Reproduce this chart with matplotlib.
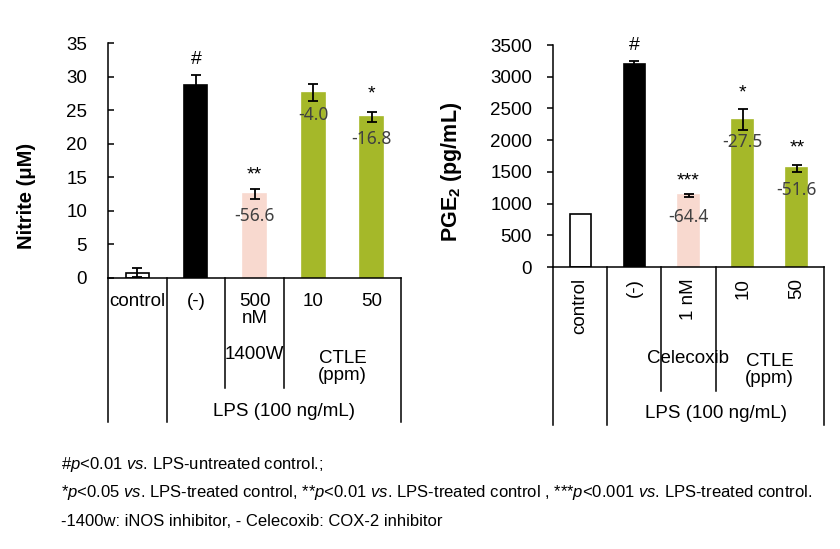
import matplotlib
matplotlib.use('Agg')
import matplotlib.pyplot as plt

plt.rcParams['font.family'] = ['Liberation Sans', 'DejaVu Sans']
plt.rcParams['mathtext.fontset'] = 'custom'
plt.rcParams['mathtext.rm'] = 'Liberation Sans'
plt.rcParams['mathtext.it'] = 'Liberation Sans:italic'
plt.rcParams['mathtext.bf'] = 'Liberation Sans:bold'

## data
bar_colors = ['white', 'black', '#f8d9cf', '#a5b829']

no_vals = [0.8, 28.8, 12.5, 27.6, 24.0]
no_errs = [0.7, 1.4, 0.7, 1.3, 0.7]
no_pct = ['', '', '-56.6', '-4.0', '-16.8']
no_pct_y = [0, 0, 9.2, 24.3, 20.7]
no_sig = ['', '#', '**', '', '*']
no_sig_y = [0, 32.6, 15.3, 0, 27.4]

pge_vals = [840, 3205, 1130, 2325, 1555]
pge_errs = [0, 45, 25, 170, 60]
pge_pct = ['', '', '-64.4', '-27.5', '-51.6']
pge_pct_y = [0, 0, 790, 1970, 1215]
pge_sig = ['', '#', '***', '*', '**']
pge_sig_y = [0, 3500, 1360, 2750, 1870]

no_labels = ['control', '(-)', '500\nnM', '10', '50']
pge_labels = ['control', '(-)', '1 nM', '10', '50']

FS = 13.5

fig = plt.figure(figsize=(8.4, 5.49), dpi=100)

def draw_bars(ax, vals, errs, pct, pct_y, sig, sig_y):
    x = range(len(vals))
    colors = [bar_colors[0], bar_colors[1], bar_colors[2], bar_colors[3], bar_colors[3]]
    edges = ['black', 'black', bar_colors[2], bar_colors[3], bar_colors[3]]
    ax.bar(x, vals, width=0.39, color=colors, edgecolor=edges, linewidth=1.2, zorder=2)
    for i in x:
        if errs[i] > 0:
            ax.errorbar(i, vals[i], yerr=errs[i], color='black', capsize=3.5,
                        elinewidth=1.3, capthick=1.3, zorder=3)
        if pct[i]:
            ax.text(i, pct_y[i], pct[i], ha='center', va='center', fontsize=12.5,
                    color='#404040', family=['Noto Sans', 'DejaVu Sans'], zorder=4)
        if sig[i]:
            ax.text(i, sig_y[i], sig[i], ha='center', va='center', fontsize=14, zorder=4)
    ax.set_xlim(-0.5, 4.5)
    ax.set_xticks([])
    for s in ['top', 'right']:
        ax.spines[s].set_visible(False)
    ax.spines['left'].set_linewidth(1.1)
    ax.spines['bottom'].set_linewidth(1.1)
    ax.tick_params(axis='y', labelsize=FS, width=1.1, length=4)

def draw_table(ax, full_bottom, inner_bottom):
    # vertical lines of the category table under the axis (axes-y coordinates)
    tr = ax.get_xaxis_transform()
    for xv in [-0.5, 0.5, 4.5]:
        ax.plot([xv, xv], [0, full_bottom], transform=tr, color='black', lw=1.1, clip_on=False)
    for xv in [1.5, 2.5]:
        ax.plot([xv, xv], [0, inner_bottom], transform=tr, color='black', lw=1.1, clip_on=False)

## left: nitrite
ax1 = fig.add_axes([108 / 840, 1 - 278 / 549, 293 / 840, 235 / 549])
draw_bars(ax1, no_vals, no_errs, no_pct, no_pct_y, no_sig, no_sig_y)
ax1.set_ylim(0, 35)
ax1.set_yticks(range(0, 36, 5))
ax1.tick_params(axis='y', direction='in', pad=15)
ax1.set_ylabel('Nitrite (μM)', fontsize=14.5, fontweight='bold')
ax1.yaxis.set_label_coords(-0.245, 0.35)
draw_table(ax1, -0.613, -0.468)
tr1 = ax1.get_xaxis_transform()
for i, lab in enumerate(no_labels):
    ax1.text(i, -0.065, lab, transform=tr1, ha='center', va='top', fontsize=FS,
             linespacing=1.0)
ax1.text(2, -0.325, '1400W', transform=tr1, ha='center', va='center', fontsize=FS)
ax1.text(3.5, -0.38, 'CTLE\n(ppm)', transform=tr1, ha='center', va='center', fontsize=FS,
         linespacing=1.0)
ax1.text(2.5, -0.57, 'LPS (100 ng/mL)', transform=tr1, ha='center', va='center', fontsize=FS)

## right: PGE2
ax2 = fig.add_axes([553 / 840, 1 - 267 / 549, 271 / 840, 222 / 549])
draw_bars(ax2, pge_vals, pge_errs, pge_pct, pge_pct_y, pge_sig, pge_sig_y)
ax2.set_ylim(0, 3500)
ax2.set_yticks(range(0, 3501, 500))
ax2.tick_params(axis='y', direction='out', pad=11)
ax2.set_ylabel('PGE$_\\mathbf{2}$ (pg/mL)', fontsize=15.5, fontweight='bold')
ax2.yaxis.set_label_coords(-0.33, 0.43)
draw_table(ax2, -0.712, -0.559)
tr2 = ax2.get_xaxis_transform()
for i, lab in enumerate(pge_labels):
    ax2.text(i, -0.05, lab, transform=tr2, ha='center', va='top', fontsize=FS,
             rotation=90)
ax2.text(2, -0.41, 'Celecoxib', transform=tr2, ha='center', va='center', fontsize=FS)
ax2.text(3.5, -0.465, 'CTLE\n(ppm)', transform=tr2, ha='center', va='center', fontsize=FS,
         linespacing=1.0)
ax2.text(2.5, -0.66, 'LPS (100 ng/mL)', transform=tr2, ha='center', va='center', fontsize=FS)

## footnotes
fs = 12
fig.text(61 / 840, 1 - 465 / 549, '#$\\it{p}$<0.01 $\\it{vs}$. LPS-untreated control.;',
         fontsize=fs, va='center')
fig.text(61 / 840, 1 - 492 / 549,
         '*$\\it{p}$<0.05 $\\it{vs}$. LPS-treated control, **$\\it{p}$<0.01 $\\it{vs}$. '
         'LPS-treated control , ***$\\it{p}$<0.001 $\\it{vs}$. LPS-treated control.',
         fontsize=fs, va='center')
fig.text(61 / 840, 1 - 521 / 549, '-1400w: iNOS inhibitor, - Celecoxib: COX-2 inhibitor',
         fontsize=fs, va='center')

fig.savefig('out.png', dpi=100)
